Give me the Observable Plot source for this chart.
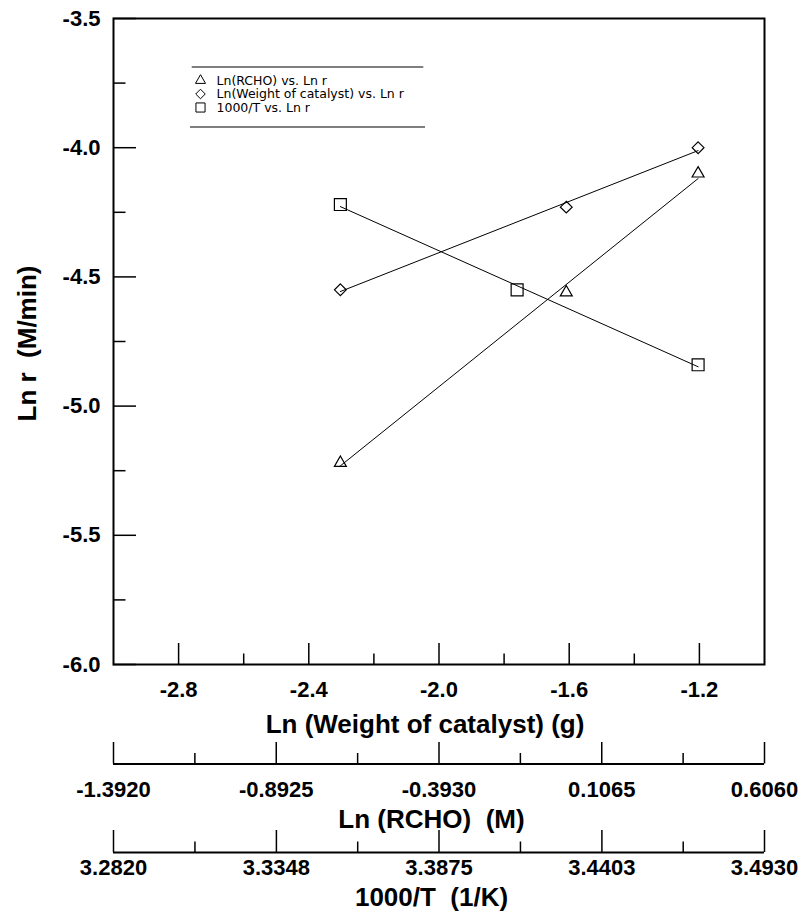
<!DOCTYPE html>
<html>
<head>
<meta charset="utf-8">
<script src="https://cdn.jsdelivr.net/npm/d3@7"></script>
<script src="https://cdn.jsdelivr.net/npm/@observablehq/plot@0.6"></script>
<style>
  html, body { margin: 0; padding: 0; background: #fff; overflow: hidden; }
  #chart svg { display: block; overflow: visible; }
</style>
</head>
<body>
<div id="chart"></div>
<script>
// ---------------- data ----------------
const seriesNames = ["Ln(RCHO) vs. Ln r", "Ln(Weight of catalyst) vs. Ln r", "1000/T vs. Ln r"];
const seriesSymbols = ["triangle2", "diamond2", "square2"];

const rchoX = [-2.303, -1.609, -1.204];
const rchoY = [-5.22, -4.56, -4.10];
const weightX = [-2.303, -1.609, -1.204];
const weightY = [-4.55, -4.23, -4.00];
const tempX = [-2.303, -1.76, -1.204];
const tempY = [-4.22, -4.55, -4.84];

const xMajor = [-2.8, -2.4, -2.0, -1.6, -1.2];
const xMinor = [-2.6, -2.2, -1.8, -1.4];
const yMajor = [-3.5, -4.0, -4.5, -5.0, -5.5, -6.0];
const yMinor = [-3.75, -4.25, -4.75, -5.25, -5.75];
const rchoMajor = [-1.392, -0.8925, -0.393, 0.1065, 0.606];
const rchoMinor = [-1.14225, -0.64275, -0.14325, 0.35625];
const tempMajor = [3.282, 3.3348, 3.3875, 3.4403, 3.493];
const tempMinor = [3.3084, 3.36115, 3.4139, 3.46665];

const xTitle = "Ln (Weight of catalyst) (g)";
const yTitle = "Ln r\u00a0\u00a0(M/min)";
const rchoTitle = "Ln (RCHO)\u00a0\u00a0(M)";
const tempTitle = "1000/T\u00a0\u00a0(1/K)";

// ---------------- layout ----------------
const W = 801, ML = 113, MR = 37;
const H1 = 740, MT1 = 18, MB1 = 76;
const plotW = W - ML - MR, plotH = H1 - MT1 - MB1;
const FONT = "'Liberation Sans', Arial, Helvetica, sans-serif";
const baseStyle = {fontFamily: FONT, fontWeight: "bold", color: "black", background: "transparent", display: "block", overflow: "visible"};
const TICK_FS = 22, TITLE_FS = 26;

const pts = (xs, ys) => xs.map((x, i) => ({x, y: ys[i]}));
const rchoData = pts(rchoX, rchoY);
const weightData = pts(weightX, weightY);
const tempData = pts(tempX, tempY);

const dotR = [5.7, 5.3, 7.6];
const legR = [4.8, 4.3, 5.8];
const seriesData = [rchoData, weightData, tempData];

const legendMarks = [];
seriesNames.forEach((name, i) => {
  const dy = 62 + i * 13.5;
  legendMarks.push(Plot.dot([name], {frameAnchor: "top-left", dx: 87, dy, symbol: d => d, r: legR[i], stroke: "black", fill: "none", strokeWidth: 1}));
  legendMarks.push(Plot.text([name], {frameAnchor: "top-left", dx: 103, dy, text: d => d, textAnchor: "start", lineAnchor: "middle", fontFamily: "'DejaVu Sans', sans-serif", fontWeight: "normal", fontSize: 12.5}));
});
// legend box top and bottom rules
legendMarks.push(Plot.rect([0], {fill: "black", insetTop: 48.5, insetBottom: plotH - 49.5, insetLeft: 78.7, insetRight: plotW - 310.3}));
legendMarks.push(Plot.rect([0], {fill: "black", insetTop: 108.5, insetBottom: plotH - 109.5, insetLeft: 77, insetRight: plotW - 312}));

const main = Plot.plot({
  width: W, height: H1,
  marginLeft: ML, marginRight: MR, marginTop: MT1, marginBottom: MB1,
  x: {domain: [-3.0, -1.0]},
  y: {domain: [-6.0, -3.5]},
  symbol: {domain: seriesNames, range: seriesSymbols},
  style: baseStyle,
  marks: [
    Plot.frame({stroke: "black", strokeWidth: 2}),
    Plot.tickX(xMajor, {x: d => d, insetTop: plotH - 21, stroke: "black", strokeWidth: 1.5}),
    Plot.tickX(xMinor, {x: d => d, insetTop: plotH - 10.5, stroke: "black", strokeWidth: 1.5}),
    Plot.tickY(yMajor, {y: d => d, insetRight: plotW - 23, stroke: "black", strokeWidth: 1.5}),
    Plot.tickY(yMinor, {y: d => d, insetRight: plotW - 12.5, stroke: "black", strokeWidth: 1.5}),
    Plot.axisX({ticks: xMajor, tickSize: 0, tickPadding: 17, tickFormat: d => d.toFixed(1), fontSize: TICK_FS, fontWeight: "bold", label: null}),
    Plot.axisY({ticks: yMajor, tickSize: 0, tickPadding: 13, tickFormat: d => d.toFixed(1), fontSize: TICK_FS, fontWeight: "bold", label: null}),
    ...seriesData.map(data => Plot.linearRegressionY(data, {x: "x", y: "y", stroke: "black", strokeWidth: 1, ci: 0})),
    ...seriesData.map((data, i) => Plot.dot(data, {x: "x", y: "y", symbol: () => seriesNames[i], r: dotR[i], stroke: "black", fill: "none", strokeWidth: 1.2})),
    ...legendMarks,
    Plot.text([xTitle], {frameAnchor: "bottom", dx: -14, dy: 60, text: d => d, textAnchor: "middle", lineAnchor: "middle", fontSize: TITLE_FS, fontWeight: "bold"}),
    Plot.text([yTitle], {frameAnchor: "left", dx: -86, dy: 2, rotate: -90, text: d => d, textAnchor: "middle", lineAnchor: "middle", fontSize: TITLE_FS, fontWeight: "bold"})
  ]
});

function miniAxis(domain, major, minor, title, o) {
  const fh = o.height - o.mt - o.mb;
  return Plot.plot({
    width: W, height: o.height,
    marginLeft: ML, marginRight: MR, marginTop: o.mt, marginBottom: o.mb,
    x: {domain},
    y: {domain: [0, 1], axis: null},
    style: baseStyle,
    marks: [
      Plot.ruleY([0], {stroke: "black", strokeWidth: 2}),
      Plot.tickX(major, {x: d => d, stroke: "black", strokeWidth: 1.5}),
      Plot.tickX(minor, {x: d => d, insetTop: fh - 10.5, stroke: "black", strokeWidth: 1.5}),
      Plot.axisX({ticks: major, tickSize: 0, tickPadding: o.pad, tickFormat: d => d.toFixed(4), fontSize: TICK_FS, fontWeight: "bold", label: null}),
      Plot.text([title], {frameAnchor: "bottom", dx: -7.5, dy: o.titleDy, text: d => d, textAnchor: "middle", lineAnchor: "middle", fontSize: TITLE_FS, fontWeight: "bold"})
    ]
  });
}

const rchoAxis = miniAxis([-1.392, 0.606], rchoMajor, rchoMinor, rchoTitle, {height: 88, mt: 2, mb: 64.5, pad: 17, titleDy: 55.5});
const tempAxis = miniAxis([3.282, 3.493], tempMajor, tempMinor, tempTitle, {height: 90, mt: 2, mb: 66, pad: 7, titleDy: 45});

const chart = document.getElementById("chart");
chart.append(main, rchoAxis, tempAxis);
</script>
</body>
</html>
